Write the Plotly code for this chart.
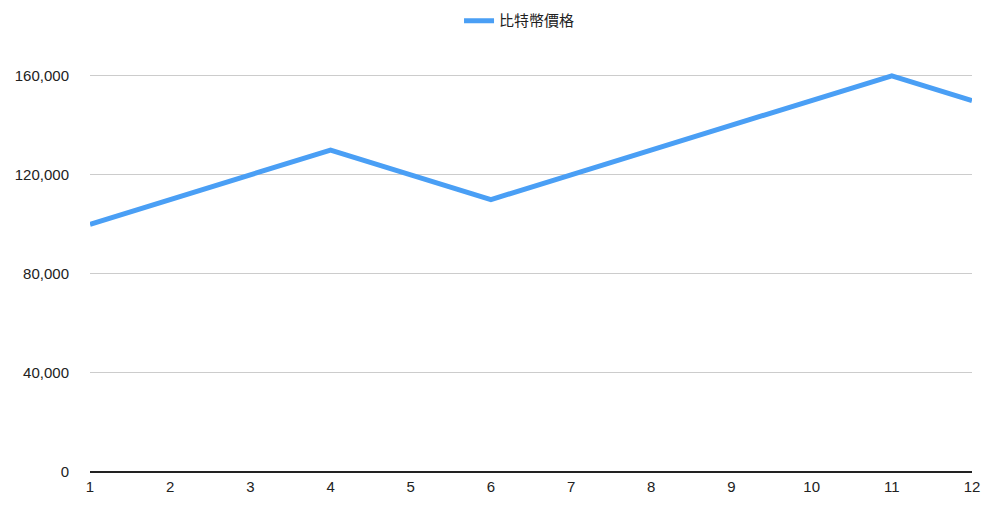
import plotly.graph_objects as go

months = list(range(1, 13))
prices = [100000, 110000, 120000, 130000, 120000, 110000, 120000, 130000, 140000, 150000, 160000, 150000]
series_name = "比特幣價格"
y_ticks = [0, 40000, 80000, 120000, 160000]
y_tick_labels = ["0", "40,000", "80,000", "120,000", "160,000"]

fig = go.Figure()
fig.add_trace(go.Scatter(
    x=months, y=prices, mode="lines", name=series_name,
    line=dict(color="#4a9ff5", width=5),
))

fig.update_layout(
    width=1000, height=515,
    margin=dict(l=82, r=36, t=43, b=51),
    paper_bgcolor="white", plot_bgcolor="white",
    font=dict(family="Liberation Sans, Arial, Noto Sans CJK TC, sans-serif", size=15, color="#222"),
    showlegend=True,
    legend=dict(orientation="h", x=0.487, xanchor="center", y=0.975, yanchor="middle",
                yref="container", font=dict(size=15, family="Noto Sans CJK TC, sans-serif"),
                itemwidth=30),
    xaxis=dict(range=[1, 12], tickvals=months, ticktext=[str(m) for m in months],
               showgrid=False, zeroline=False, showline=False, ticks="",
               ticklabelstandoff=4, automargin=False),
    yaxis=dict(range=[0, 170000], tickvals=y_ticks, ticktext=y_tick_labels,
               showgrid=True, gridcolor="#cccccc", gridwidth=1,
               zeroline=True, zerolinecolor="#222", zerolinewidth=2,
               showline=False, ticks="", ticklabelstandoff=20, automargin=False),
)

fig.write_html("out.html")
